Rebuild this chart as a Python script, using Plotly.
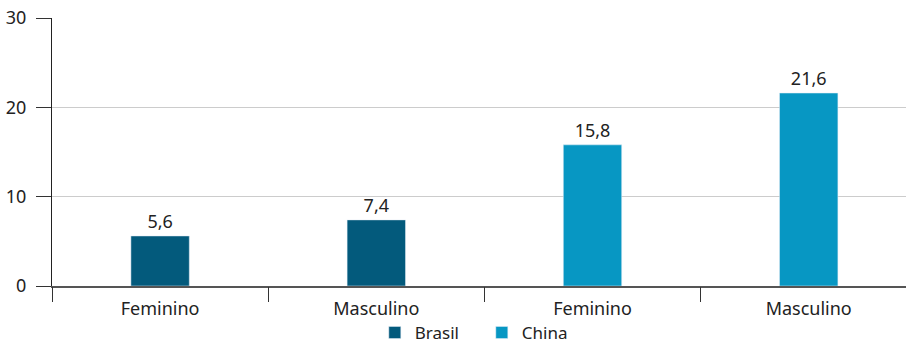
import plotly.graph_objects as go

# Categories and values
categories = ["Feminino", "Masculino", "Feminino", "Masculino"]
brasil_values = [5.6, 7.4]
china_values = [15.8, 21.6]
y_ticks = [0, 10, 20, 30]

brasil_x = [0, 1]
china_x = [2, 3]

BRASIL = "#035A7C"
CHINA = "#0797C3"
TEXT = "#222222"
FONT = "Noto Sans"
FS = 18


def fmt(v):
    return f"{v:.1f}".replace(".", ",")


fig = go.Figure()
fig.add_trace(go.Bar(
    x=brasil_x, y=brasil_values, name="Brasil", marker_color=BRASIL,
    width=0.27, text=[fmt(v) for v in brasil_values], textposition="outside",
    textfont=dict(size=FS, color=TEXT, family=FONT), cliponaxis=False,
))
fig.add_trace(go.Bar(
    x=china_x, y=china_values, name="China", marker_color=CHINA,
    width=0.27, text=[fmt(v) for v in china_values], textposition="outside",
    textfont=dict(size=FS, color=TEXT, family=FONT), cliponaxis=False,
))
# invisible trace to anchor the overlay axis carrying boundary ticks
fig.add_trace(go.Scatter(x=[0], y=[0], xaxis="x2", mode="markers",
                         marker=dict(opacity=0), showlegend=False, hoverinfo="skip"))

xrange = [-0.5, 3.45]
fig.update_layout(
    width=906, height=344,
    margin=dict(l=52, r=0, t=18, b=58, autoexpand=False),
    paper_bgcolor="white", plot_bgcolor="white",
    font=dict(family=FONT, size=FS, color=TEXT),
    barmode="overlay",
    showlegend=True,
    legend=dict(orientation="h", x=0.378, xanchor="left", y=-0.108, yanchor="top",
                font=dict(size=17, color=TEXT, family=FONT),
                itemwidth=30, tracegroupgap=0,
                entrywidth=62, entrywidthmode="pixels"),
    xaxis=dict(
        range=xrange, tickmode="array", tickvals=[0, 1, 2, 3], ticktext=categories,
        ticks="", showgrid=False, zeroline=False,
        showline=True, linecolor="#555555", linewidth=1.5,
        tickfont=dict(size=FS, color=TEXT, family=FONT),
        ticklabelstandoff=6,
    ),
    xaxis2=dict(
        overlaying="x", range=xrange, side="bottom",
        tickmode="array", tickvals=[-0.5, 0.5, 1.5, 2.5],
        ticks="outside", ticklen=15, tickcolor="#333333", tickwidth=1,
        showticklabels=False, showgrid=False, zeroline=False, showline=False,
    ),
    yaxis=dict(
        range=[0, 30], tickmode="array", tickvals=y_ticks,
        ticks="outside", ticklen=15, tickcolor="#333333", tickwidth=1,
        showgrid=True, gridcolor="#CCCCCC", gridwidth=1,
        zeroline=False, showline=True, linecolor="#222222", linewidth=1.2,
        tickfont=dict(size=FS, color=TEXT, family=FONT),
        ticklabelstandoff=6,
    ),
)

fig.write_html("out.html")
